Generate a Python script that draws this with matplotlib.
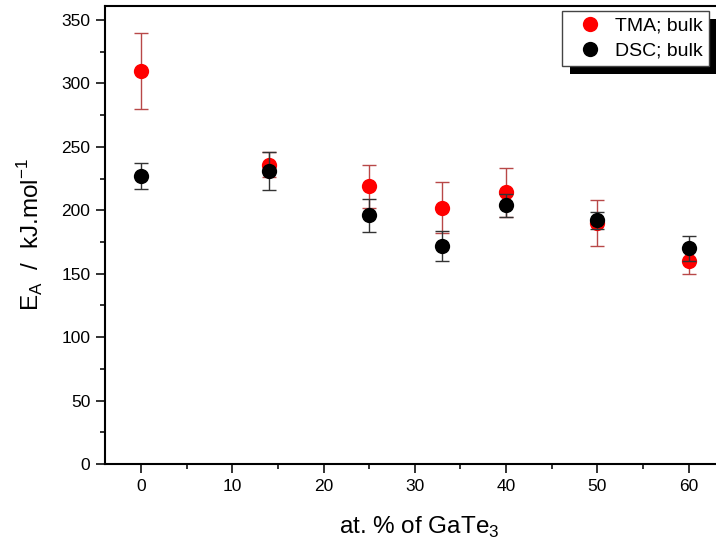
import matplotlib
matplotlib.use("Agg")
import matplotlib.pyplot as plt
from matplotlib.patches import Rectangle
from matplotlib.ticker import MultipleLocator

plt.rcParams['font.family'] = ['Liberation Sans', 'DejaVu Sans']
plt.rcParams['mathtext.fontset'] = 'custom'
plt.rcParams['mathtext.rm'] = 'Liberation Sans'

# GaTe3 content (at. %)
gate3 = [0, 14, 25, 33, 40, 50, 60]

# activation energies, kJ/mol
tma_ea = [310, 236, 219, 202, 214, 190, 160]
tma_err = [30, 10, 17, 20, 19, 18, 10]
dsc_ea = [227, 231, 196, 172, 204, 192, 170]
dsc_err = [10, 15, 13, 12, 9, 7, 10]

fig = plt.figure(figsize=(7.16, 5.44), dpi=100)
W, H = 716, 544
x0, x1 = -3.95, 65.0
px_per_unit = 9.127
ax_left, ax_bottom, ax_top = 105, 464, 6
ax_width = (x1 - x0) * px_per_unit
ax = fig.add_axes([ax_left / W, (H - ax_bottom) / H, ax_width / W, (ax_bottom - ax_top) / H])

ax.errorbar(gate3, tma_ea, yerr=tma_err, fmt='none', ecolor='#b84848',
            elinewidth=1.0, capsize=5, capthick=1.0, zorder=2)
ax.plot(gate3, tma_ea, 'o', color='#ff0000', markersize=11, mec='none',
        label='TMA; bulk', zorder=3)
ax.errorbar(gate3, dsc_ea, yerr=dsc_err, fmt='none', ecolor='#333333',
            elinewidth=1.0, capsize=5, capthick=1.0, zorder=4)
ax.plot(gate3, dsc_ea, 'o', color='#000000', markersize=11, mec='none',
        label='DSC; bulk', zorder=5)

ax.set_xlim(x0, x1)
ax.set_ylim(0, 361)
ax.xaxis.set_major_locator(MultipleLocator(10))
ax.xaxis.set_minor_locator(MultipleLocator(5))
ax.yaxis.set_major_locator(MultipleLocator(50))
ax.yaxis.set_minor_locator(MultipleLocator(25))
ax.tick_params(which='major', direction='out', length=6.5, width=1.3, labelsize=12.5,
               pad=4, color='#222222')
ax.tick_params(which='minor', direction='out', length=3.5, width=1.3, color='#222222')
for sp in ax.spines.values():
    sp.set_linewidth(1.5)
ax.spines['right'].set_visible(False)

ax.set_xlabel('at. % of GaTe$_\\mathregular{3}$', fontsize=17.5, labelpad=15)
ax.set_ylabel('E$_\\mathregular{A}$  /  kJ.mol$^\\mathregular{-1}$', fontsize=17.5, labelpad=11)

leg = ax.legend(loc='upper left', bbox_to_anchor=(562 / W, 1 - 11 / H),
                bbox_transform=fig.transFigure, frameon=True, fancybox=False,
                fontsize=14, handlelength=2.3, handletextpad=0.15,
                borderpad=0.3, labelspacing=0.4, borderaxespad=0,
                markerscale=1.0)
leg.get_frame().set_edgecolor('#444444')
leg.get_frame().set_linewidth(1.0)
leg.get_frame().set_alpha(1.0)
leg.set_zorder(10)

fig.canvas.draw()
bb = leg.get_window_extent()
shadow = Rectangle((bb.x0 + 8, bb.y0 - 8), bb.width, bb.height,
                   transform=None, facecolor='black', edgecolor='none',
                   zorder=9, clip_on=False)
ax.add_artist(shadow)

fig.savefig('out.png', dpi=100)
